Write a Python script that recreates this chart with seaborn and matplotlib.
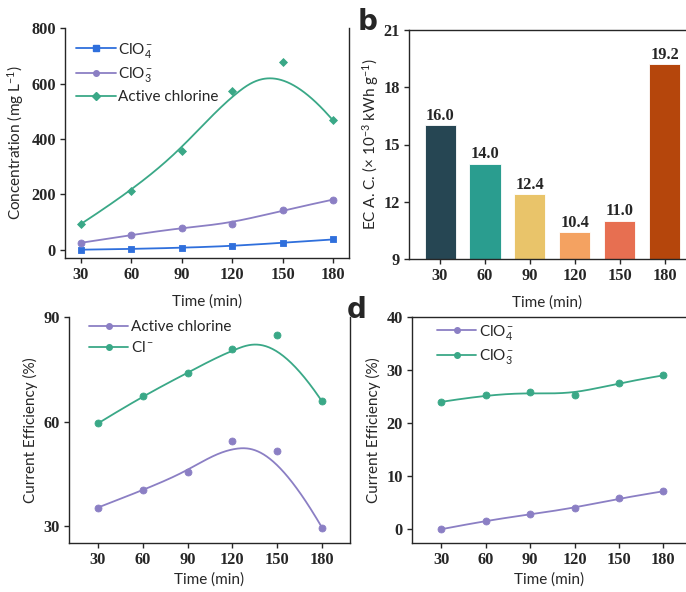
import numpy as np
import pandas as pd
import matplotlib
matplotlib.use("Agg")
import matplotlib.pyplot as plt
from matplotlib.lines import Line2D
import seaborn as sns

# ---------------- data ----------------
time = [30, 60, 90, 120, 150, 180]

# panel a: concentration (mg L-1)
a_clo4 = [0, 2.5, 7, 13, 25, 37]
a_clo3 = [25, 53, 80, 94, 142, 181]
a_active = [93, 212, 358, 574, 679, 467]

# panel b: energy consumption
b_labels = ["30", "60", "90", "120", "150", "180"]
b_values = [16.0, 14.0, 12.4, 10.4, 11.0, 19.2]
b_colors = ["#264653", "#2a9d8f", "#e9c46a", "#f4a261", "#e76f51", "#b5460c"]

# panel c: current efficiency (%)
c_active = [35.3, 40.3, 45.4, 54.4, 51.6, 29.5]
c_cl = [59.5, 67.4, 74.0, 81.0, 85.0, 65.8]

# panel d: current efficiency (%)
d_clo4 = [0.0, 1.6, 2.8, 4.0, 5.8, 7.15]
d_clo3 = [24.0, 25.3, 25.8, 25.3, 27.6, 29.0]

BLUE = "#2f6fdc"
PURPLE = "#8b7fc4"
GREEN = "#3aa887"

# ---------------- style ----------------
sns.set_style("ticks")
plt.rcParams["font.family"] = ["Lato", "DejaVu Sans"]
plt.rcParams["mathtext.fontset"] = "custom"
plt.rcParams["mathtext.rm"] = "Lato"
plt.rcParams["mathtext.it"] = "Lato"
plt.rcParams["axes.linewidth"] = 1.0
plt.rcParams["xtick.major.size"] = 3.5
plt.rcParams["ytick.major.size"] = 3.5

TICKFONT = dict(family="Liberation Serif", weight="bold", size=11.8)
LABELSIZE = 11


def bspline(xs, ys, n=300):
    """clamped cubic B-spline using the data points as control points"""
    P = np.column_stack([xs, ys]).astype(float)
    k = 3
    m = len(P)
    inner = np.linspace(0, 1, m - k + 1)
    knots = np.concatenate([[0] * k, inner, [1] * k])
    u = np.linspace(0, 1, n)
    u[-1] = 1 - 1e-12

    def N(i, p, t):
        if p == 0:
            return np.where((knots[i] <= t) & (t < knots[i + 1]), 1.0, 0.0)
        out = np.zeros_like(t)
        d1 = knots[i + p] - knots[i]
        d2 = knots[i + p + 1] - knots[i + 1]
        if d1 > 0:
            out += (t - knots[i]) / d1 * N(i, p - 1, t)
        if d2 > 0:
            out += (knots[i + p + 1] - t) / d2 * N(i + 1, p - 1, t)
        return out

    B = np.array([N(i, k, u) for i in range(m)])
    C = B.T @ P
    return C[:, 0], C[:, 1]


def series(ax, ys, color, marker, ms=5):
    cx, cy = bspline(time, ys)
    sns.lineplot(x=cx, y=cy, ax=ax, color=color, lw=1.3, sort=False, estimator=None)
    sns.scatterplot(x=time, y=ys, ax=ax, color=color, marker=marker, s=ms ** 2,
                    edgecolor=color, linewidth=0.6, zorder=3)


def style_ticks(ax):
    for lab in ax.get_xticklabels() + ax.get_yticklabels():
        lab.set_fontfamily(TICKFONT["family"])
        lab.set_fontweight(TICKFONT["weight"])
        lab.set_fontsize(TICKFONT["size"])
    ax.tick_params(axis="both", which="major", pad=3, width=1.0)


def legend(ax, entries, loc_xy, spacing):
    handles = [Line2D([], [], color=c, marker=m, markersize=4, lw=1.3) for _, c, m in entries]
    ax.legend(handles, [t for t, _, _ in entries], loc="upper left", bbox_to_anchor=loc_xy,
              frameon=False, fontsize=11, handlelength=2.6, handletextpad=0.15,
              labelspacing=spacing, borderaxespad=0, borderpad=0)


fig = plt.figure(figsize=(6.86, 5.92), dpi=100)
W, H = 686, 592


def axes_px(l, t, r, b):
    return fig.add_axes([l / W, 1 - b / H, (r - l) / W, (b - t) / H])


# ---------------- panel a ----------------
ax = axes_px(65, 28, 349, 258)
series(ax, a_clo4, BLUE, "s", 4.5)
series(ax, a_clo3, PURPLE, "o", 5)
series(ax, a_active, GREEN, "D", 4)
ax.set_xlim(20.5, 189.5)
ax.set_ylim(-30, 801)
ax.set_xticks(time)
ax.set_yticks([0, 200, 400, 600, 800])
ax.spines["top"].set_visible(False)
ax.set_xlabel("Time (min)", fontsize=LABELSIZE, labelpad=8)
ax.set_ylabel("Concentration (mg L$^{-1}$)", fontsize=LABELSIZE, labelpad=4)
style_ticks(ax)
legend(ax, [("ClO$_4^-$", BLUE, "s"), ("ClO$_3^-$", PURPLE, "o"),
            ("Active chlorine", GREEN, "D")], (0.04, 0.945), 0.38)

# ---------------- panel b ----------------
ax = axes_px(409, 30, 686, 259)
df_b = pd.DataFrame({"time": b_labels, "value": b_values})
sns.barplot(data=df_b, x="time", y="value", hue="time", palette=b_colors, legend=False,
            ax=ax, width=0.69, edgecolor="white", linewidth=0.6, saturation=1)
ax.set_ylim(9, 21)
ax.set_xlim(-0.69, 5.47)
ax.set_yticks([9, 12, 15, 18, 21])
ax.spines["right"].set_visible(False)
for cont in ax.containers:
    ax.bar_label(cont, fmt="%.1f", padding=1, fontfamily="Liberation Serif",
                 fontweight="bold", fontsize=11.8)
ax.set_xlabel("Time (min)", fontsize=LABELSIZE, labelpad=8)
ax.set_ylabel("EC A. C. (× 10$^{-3}$ kWh g$^{-1}$)", fontsize=LABELSIZE, labelpad=2)
style_ticks(ax)
fig.text(368 / W, 1 - 22 / H, "b", fontsize=20, fontweight="bold", ha="center", va="center",
         family="DejaVu Sans")

# ---------------- panel c ----------------
ax = axes_px(69, 317, 350, 543)
series(ax, c_active, PURPLE, "o", 5)
series(ax, c_cl, GREEN, "o", 5)
ax.set_xlim(10.6, 198.7)
ax.set_ylim(25.1, 90.1)
ax.set_xticks(time)
ax.set_yticks([30, 60, 90])
ax.spines["top"].set_visible(False)
ax.set_xlabel("Time (min)", fontsize=LABELSIZE, labelpad=3)
ax.set_ylabel("Current Efficiency (%)", fontsize=LABELSIZE, labelpad=4)
style_ticks(ax)
legend(ax, [("Active chlorine", PURPLE, "o"), ("Cl$^-$", GREEN, "o")], (0.07, 0.985), 0.38)

# ---------------- panel d ----------------
ax = axes_px(412, 317, 686, 543)
series(ax, d_clo4, PURPLE, "o", 5)
series(ax, d_clo3, GREEN, "o", 5)
ax.set_xlim(10.2, 195.3)
ax.set_ylim(-2.6, 40)
ax.set_xticks(time)
ax.set_yticks([0, 10, 20, 30, 40])
ax.spines["right"].set_visible(False)
ax.set_xlabel("Time (min)", fontsize=LABELSIZE, labelpad=3)
ax.set_ylabel("Current Efficiency (%)", fontsize=LABELSIZE, labelpad=4)
style_ticks(ax)
legend(ax, [("ClO$_4^-$", PURPLE, "o"), ("ClO$_3^-$", GREEN, "o")], (0.09, 0.975), 0.38)
fig.text(357 / W, 1 - 310 / H, "d", fontsize=20, fontweight="bold", ha="center", va="center",
         family="DejaVu Sans")

fig.savefig("out.png", dpi=100)
